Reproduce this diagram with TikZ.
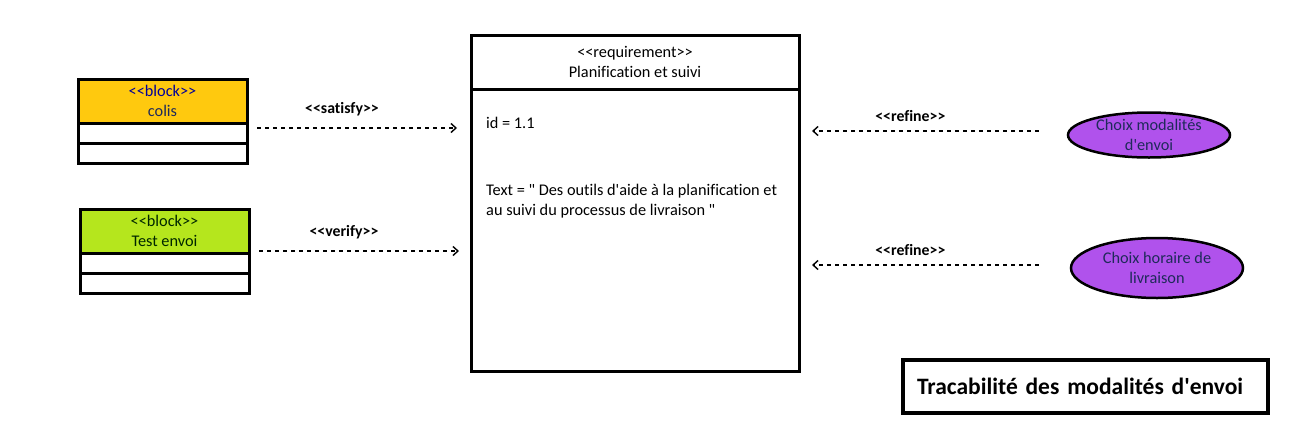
\documentclass[tikz,border=0pt]{standalone}
\usepackage{fontspec}
\newfontfamily\calib{Carlito}[Ligatures=CommonOff]
\usetikzlibrary{arrows.meta,positioning,shapes.geometric}
\definecolor{blockyellow}{HTML}{FFC90E}
\definecolor{blockgreen}{HTML}{B5E61D}
\definecolor{usecase}{HTML}{B052EC}
\definecolor{navy}{HTML}{1F2A5A}
\tikzset{
	txt/.style={font=\calib\fontsize{16.3}{19.5}\selectfont},
	head/.style={txt, draw, line width=3pt, inner sep=0pt, outer sep=0pt, align=center, text=navy},
	comp/.style={draw, line width=3pt, minimum width=169pt, minimum height=20pt, inner sep=0pt, outer sep=0pt},
	dep/.style={line width=1.6pt, dash pattern=on 4pt off 4pt, -{Straight Barb[length=5pt,width=9pt,line width=1.4pt]}},
	lbl/.style={font=\calib\fontsize{15.8}{18}\selectfont\bfseries},
	uc/.style={ellipse, draw, line width=2.5pt, fill=usecase, inner sep=0pt, txt, text=navy, align=center}
}
\begin{document}
\begin{tikzpicture}[x=1pt,y=-1pt]
	\useasboundingbox (0,0) rectangle (1315,437);
	% blocks on the left
	\node[head, fill=blockyellow, minimum width=169pt, minimum height=44pt] (colis) at (162.5,101) {{\color{blue!60!black}<<block>>}\\colis};
	\node[comp, below=0pt of colis] (colisA) {};
	\node[comp, below=0pt of colisA] (colisB) {};
	\node[head, fill=blockgreen, minimum width=169pt, minimum height=44pt, text=black!85!green] (test) at (164.5,231) {<<block>>\\Test envoi};
	\node[comp, below=0pt of test] (testA) {};
	\node[comp, below=0pt of testA] (testB) {};
	
	% the requirement
	\node[head, text=black, minimum width=328pt, minimum height=54pt] (req) at (635,62) {<<requirement>>\\Planification et suivi};
	\node[draw, line width=3pt, minimum width=328pt, minimum height=282pt, outer sep=0pt, below=0pt of req] (reqbody) {};
	\node[txt, anchor=base west, inner sep=0pt] (reqid) at ([xshift=15pt,yshift=-39pt]reqbody.north west) {id = 1.1};
	\node[txt, anchor=north west, align=left, inner sep=0pt] (reqtext) at ([xshift=15pt,yshift=-95pt]reqbody.north west) {Text = " Des outils d'aide à la planification et\\au suivi du processus de livraison "};
	
	% use cases on the right
	\node[uc, minimum width=162pt, minimum height=45pt] (modal) at (1149,135) {Choix modalités\\d'envoi};
	\node[uc, minimum width=172pt, minimum height=60pt] (horaire) at (1157,268) {Choix horaire de\\livraison};
	
	% dependencies
	\draw[dep] ([xshift=10pt]colis.east |- 0,128) -- node[lbl, above=8pt, xshift=-15pt] {<<satisfy>>} ([xshift=-14pt]req.west |- 0,128);
	\draw[dep] ([xshift=10pt]test.east |- 0,251) -- node[lbl, above=8pt, xshift=-15pt] {<<verify>>} ([xshift=-12pt]req.west |- 0,251);
	\draw[dep] ([xshift=-28pt]modal.west |- 0,131) -- node[lbl, above=5pt, xshift=-15pt] {<<refine>>} ([xshift=13pt]req.east |- 0,131);
	\draw[dep] ([xshift=-31pt]horaire.west |- 0,265) -- node[lbl, above=5pt, xshift=-15pt] {<<refine>>} ([xshift=13pt]req.east |- 0,265);
	
	% title
	\node[draw, line width=4pt, minimum width=365pt, minimum height=53pt, text width=337pt, align=left, font=\calib\fontsize{23.5}{27}\selectfont\bfseries] (title) at (1085.5,386.5) {Tracabilité des modalités d'envoi};
\end{tikzpicture}
\end{document}
